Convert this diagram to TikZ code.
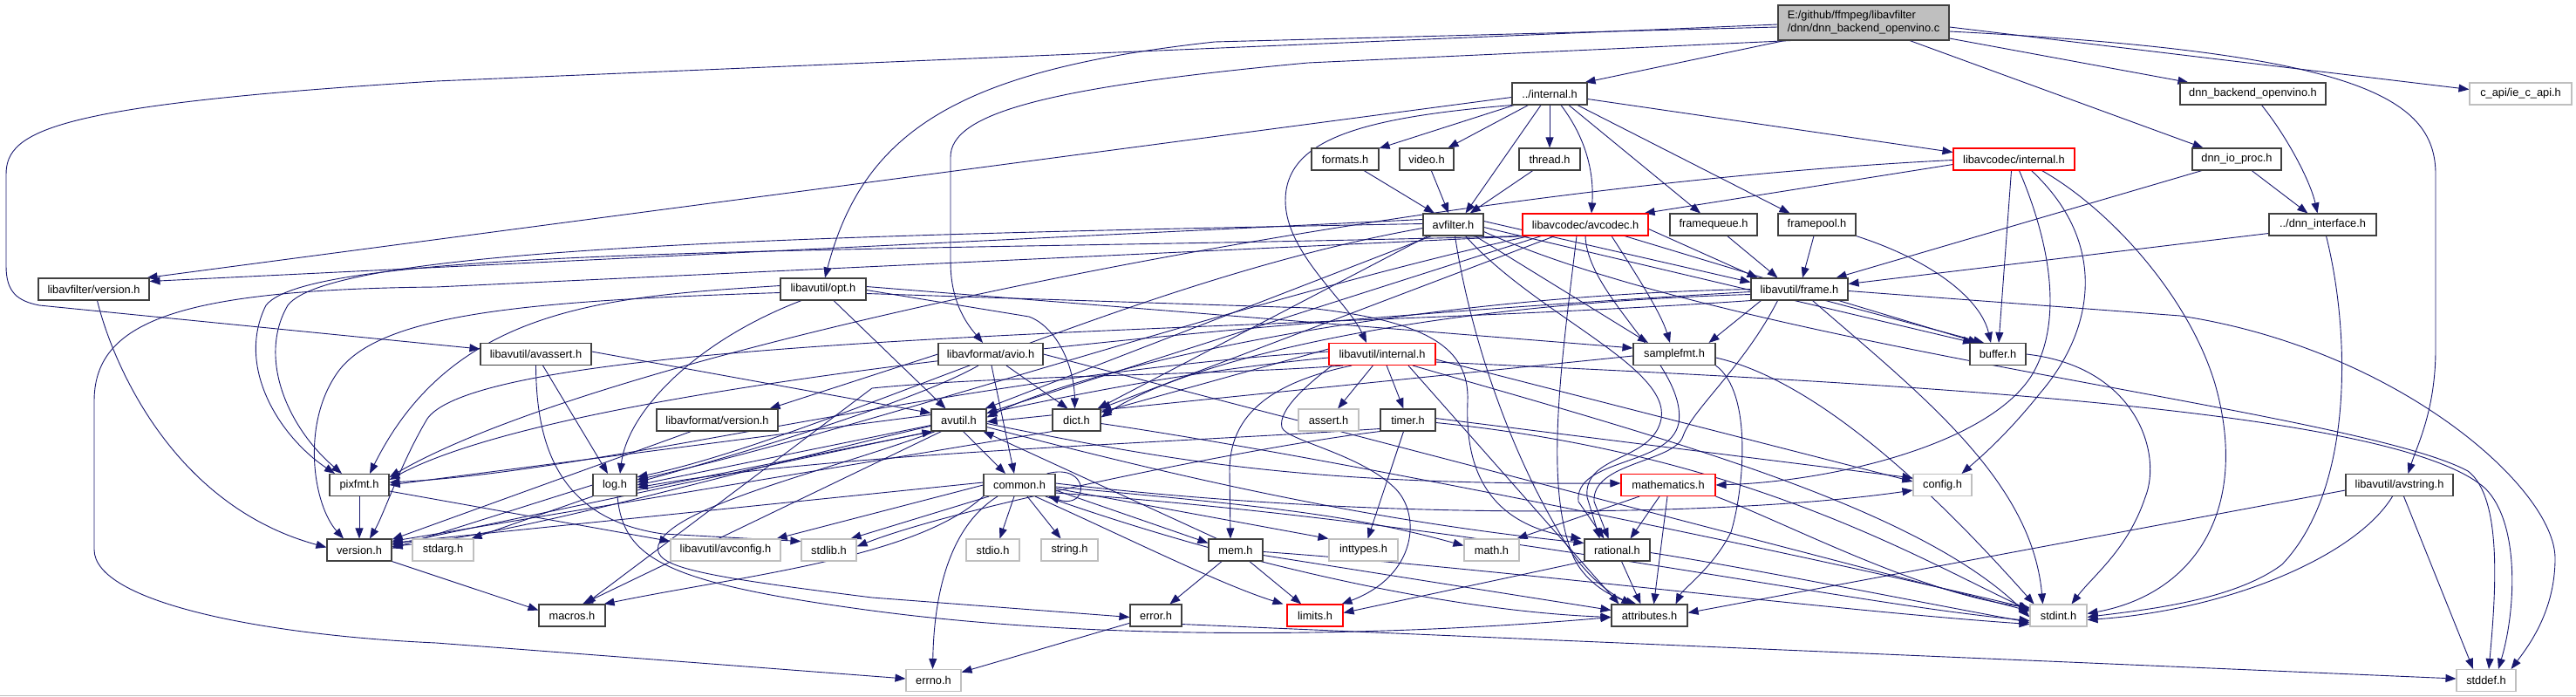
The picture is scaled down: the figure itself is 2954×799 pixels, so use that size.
\documentclass[tikz,border=0pt]{standalone}
\usepackage{fontspec}
\setmainfont{Liberation Sans}
\usetikzlibrary{arrows.meta}
\definecolor{edgec}{HTML}{191970}
\definecolor{bordc}{HTML}{404040}
\definecolor{redc}{HTML}{FF0000}
\definecolor{greyc}{HTML}{BFBFBF}
\definecolor{mainfill}{HTML}{BFBFBF}
\pgfdeclarelayer{bg}
\pgfsetlayers{bg,main}
\tikzset{
  nd/.style={draw=bordc, line width=1.1pt, fill=white, inner sep=0pt, minimum height=25pt, font=\fontsize{12.8pt}{15pt}\selectfont},
  rd/.style={nd, draw=redc},
  gd/.style={nd, draw=greyc},
  e/.style={draw=edgec, line width=0.9pt, -{Triangle[length=12pt,width=9pt]}},
}
\newcommand\Nd[6]{\node[#1, minimum width=#5pt] (#2) at (#3,#4) {#6};}
\begin{document}
\begin{tikzpicture}[x=1pt,y=-1pt]
\useasboundingbox (0,0) rectangle (2954,799);
% ---------------- nodes
\node[nd, fill=mainfill, minimum width=196pt, minimum height=40pt, align=left] (main) at (2137,26) {E:/github/ffmpeg/libavfilter\\/dnn/dnn\_backend\_openvino.c};
\Nd{nd}{intf}{1777}{107.5}{86}{../internal.h}
\Nd{nd}{dbo}{2583.5}{107.5}{167}{dnn\_backend\_openvino.h}
\Nd{gd}{ieapi}{2890.5}{107.5}{117}{c\_api/ie\_c\_api.h}
\Nd{nd}{formats}{1542.5}{182.5}{77}{formats.h}
\Nd{nd}{video}{1636}{182.5}{62}{video.h}
\Nd{nd}{thread}{1777}{182.5}{70}{thread.h}
\Nd{rd}{acint}{2309.5}{182.5}{139}{libavcodec/internal.h}
\Nd{nd}{dio}{2565}{182.5}{102}{dnn\_io\_proc.h}
\Nd{nd}{avfilter}{1666.5}{257.5}{69}{avfilter.h}
\Nd{rd}{avcodec}{1818}{257.5}{144}{libavcodec/avcodec.h}
\Nd{nd}{framequeue}{1965}{257.5}{100}{framequeue.h}
\Nd{nd}{framepool}{2083.5}{257.5}{89}{framepool.h}
\Nd{nd}{dnnif}{2663.5}{257.5}{123}{../dnn\_interface.h}
\Nd{nd}{lfver}{107.5}{331.5}{127}{libavfilter/version.h}
\Nd{nd}{opt}{944}{331.5}{98}{libavutil/opt.h}
\Nd{nd}{frame}{2063.5}{331.5}{111}{libavutil/frame.h}
\Nd{nd}{avassert}{614.5}{406}{127}{libavutil/avassert.h}
\Nd{nd}{avio}{1136}{406}{120}{libavformat/avio.h}
\Nd{rd}{uint}{1585}{406}{122}{libavutil/internal.h}
\Nd{nd}{samplefmt}{1920}{406}{94}{samplefmt.h}
\Nd{nd}{buffer}{2291}{406}{64}{buffer.h}
\Nd{nd}{lfmtver}{822.5}{481.5}{139}{libavformat/version.h}
\Nd{nd}{avutil}{1099.5}{481.5}{63}{avutil.h}
\Nd{nd}{dict}{1234.5}{481.5}{55}{dict.h}
\Nd{gd}{assert}{1523.5}{481.5}{69}{assert.h}
\Nd{nd}{timer}{1614.5}{481.5}{63}{timer.h}
\Nd{nd}{pixfmt}{412}{556}{68}{pixfmt.h}
\Nd{nd}{log}{705}{556}{50}{log.h}
\Nd{nd}{common}{1169}{556}{82}{common.h}
\Nd{rd}{mathem}{1913}{556}{108}{mathematics.h}
\Nd{gd}{config}{2227.5}{556}{67}{config.h}
\Nd{nd}{avstring}{2751.5}{556}{123}{libavutil/avstring.h}
\Nd{nd}{version}{412}{630.5}{74}{version.h}
\Nd{gd}{stdarg}{508}{630.5}{70}{stdarg.h}
\Nd{gd}{avconfig}{832}{630.5}{126}{libavutil/avconfig.h}
\Nd{gd}{stdlib}{950.5}{630.5}{63}{stdlib.h}
\Nd{gd}{stdio}{1138.5}{630.5}{61}{stdio.h}
\Nd{gd}{string}{1226.5}{630.5}{65}{string.h}
\Nd{gd}{inttypes}{1563.5}{630.5}{79}{inttypes.h}
\Nd{gd}{mathh}{1710.5}{630.5}{63}{math.h}
\Nd{nd}{mem}{1417}{630.5}{62}{mem.h}
\Nd{nd}{rational}{1854.5}{630.5}{75}{rational.h}
\Nd{nd}{macros}{656}{705.5}{76}{macros.h}
\Nd{nd}{error}{1325.5}{705.5}{59}{error.h}
\Nd{rd}{limits}{1508}{705.5}{64}{limits.h}
\Nd{nd}{attributes}{1891.5}{705.5}{87}{attributes.h}
\Nd{gd}{stdint}{2360.5}{705.5}{65}{stdint.h}
\Nd{gd}{errno}{1070.5}{780}{63}{errno.h}
\Nd{gd}{stddef}{2851}{780}{68}{stddef.h}
% ---------------- edges
\begin{pgfonlayer}{bg}
\fill[white] (0,0) rectangle (2954,799);
\draw[greyc, line width=1.2pt] (0,797.8) -- (2954,797.8);
% main
\draw[e] ([xshift=8pt]main.south west) -- ([xshift=-3pt]intf.north east);
\draw[e] ([yshift=-18pt]main.east) -- ([xshift=10pt]dbo.north west);
\draw[e] ([xshift=53pt]main.south) -- ([xshift=13pt]dio.north west);
\draw[e] ([yshift=-5pt]main.east) -- ([yshift=5pt]ieapi.west);
\draw[e] ([yshift=-10pt]main.east) .. controls (2700,60) and (2793,110) .. (2793,200) -- (2793,400) .. controls (2793,470) and (2772,510) .. ([xshift=10pt]avstring.north);
\draw[e] ([yshift=-2pt]main.west) -- (500,93) .. controls (60,120) and (7,150) .. (7,200) -- (7,305) .. controls (7,335) and (20,345) .. (45,350) -- ([yshift=6pt]avassert.west);
\draw[e] ([yshift=-5pt]main.west) -- (1393,48) .. controls (1100,80) and (990,150) .. ([xshift=2pt]opt.north);
\draw[e] ([xshift=15pt]main.south west) -- (1500,72) .. controls (1200,100) and (1090,130) .. (1090,180) -- (1090,300) .. controls (1090,350) and (1112,375) .. ([xshift=-9pt]avio.north);
% ../internal.h
\draw[e] (intf) -- (formats);
\draw[e] (intf) -- (video);
\draw[e] (intf) -- (thread);
\draw[e] ([xshift=-10pt]intf.south) -- ([xshift=14pt]avfilter.north);
\draw[e] ([xshift=13pt]intf.south) .. controls (1820,160) and (1828,200) .. ([xshift=7pt]avcodec.north);
\draw[e] ([xshift=22pt]intf.south) -- ([xshift=-15pt]framequeue.north);
\draw[e] ([xshift=32pt]intf.south) -- ([xshift=-31pt]framepool.north);
\draw[e] ([yshift=-6pt]intf.east) -- ([yshift=8pt]acint.west);
\draw[e] ([yshift=-4pt]intf.west) -- ([xshift=-3pt]lfver.north east);
\draw[e] (intf.south west) .. controls (1560,135) and (1474,160) .. (1474,230) .. controls (1474,290) and (1545,345) .. ([xshift=-18pt]uint.north);
% second rank
\draw[e] (formats) -- (avfilter);
\draw[e] (video) -- (avfilter);
\draw[e] (thread) -- (avfilter);
\draw[e] (framepool) -- (frame);
\draw[e] (framepool.south east) .. controls (2220,300) and (2272,345) .. ([xshift=-8pt]buffer.north);
\draw[e] (framequeue) -- ([xshift=-25pt]frame.north);
\draw[e] ([xshift=10pt]dbo.south) .. controls (2625,160) and (2650,210) .. ([xshift=-6pt]dnnif.north);
\draw[e] (dio) -- (dnnif);
\draw[e] ([xshift=-40pt]dio.south) -- ([xshift=42pt]frame.north);
\draw[e] ([yshift=-10pt]dnnif.west) -- ([yshift=6pt]frame.east);
\draw[e] ([xshift=4pt]dnnif.south) .. controls (2695,380) and (2700,560) .. (2617,647) .. controls (2560,690) and (2450,700) .. ([yshift=-2pt]stdint.east);
% libavcodec/internal.h
\draw[e] ([yshift=-6pt]acint.west) -- ([xshift=-5pt]avcodec.north east);
\draw[e] ([yshift=-1pt]acint.west) .. controls (1600,215) and (700,400) .. ([yshift=9pt]pixfmt.east);
\draw[e] ([xshift=-3pt]acint.south) -- ([xshift=1pt]buffer.north);
\draw[e] ([xshift=6pt]acint.south) .. controls (2360,300) and (2360,380) .. (2330,430) .. controls (2280,510) and (2100,552) .. (mathem.east);
\draw[e] ([xshift=20pt]acint.south) .. controls (2420,280) and (2400,380) .. (2340,450) .. controls (2300,500) and (2270,525) .. ([xshift=22pt]config.north);
\draw[e] ([xshift=32pt]acint.south) .. controls (2420,240) and (2510,340) .. (2540,440) .. controls (2580,580) and (2520,680) .. ([yshift=2pt]stdint.east);
% avfilter.h
\draw[e] ([yshift=6pt]avfilter.west) -- ([yshift=9pt]lfver.east);
\draw[e] ([yshift=1pt]avfilter.west) .. controls (900,270) and (380,285) .. (330,350) .. controls (295,410) and (330,490) .. ([xshift=-20pt]pixfmt.north);
\draw[e] ([xshift=-25pt]avfilter.south) -- ([xshift=-2pt]avutil.north east);
\draw[e] ([xshift=6pt]avfilter.south west) -- ([xshift=-4pt]dict.north east);
\draw[e] ([yshift=-4pt]avfilter.west) .. controls (1300,320) and (950,500) .. ([yshift=9pt]log.east);
\draw[e] ([xshift=2pt]avfilter.south) .. controls (1685,380) and (1730,520) .. (1800,630) .. controls (1820,660) and (1845,680) .. ([xshift=-20pt]attributes.north);
\draw[e] ([xshift=14pt]avfilter.south) .. controls (1760,360) and (1915,420) .. (1905,480) .. controls (1895,530) and (1815,520) .. (1820,570) -- ([xshift=-20pt]rational.north);
\draw[e] ([xshift=25pt]avfilter.south) -- ([xshift=-30pt]samplefmt.north);
\draw[e] ([yshift=4pt]avfilter.east) -- ([yshift=8pt]frame.west);
\draw[e] ([yshift=-3pt]avfilter.east) -- ([xshift=-28pt]buffer.north);
\draw[e] ([yshift=-8pt]avfilter.east) .. controls (2000,400) and (2700,470) .. (2830,540) .. controls (2870,570) and (2862,680) .. ([xshift=3pt]stddef.north);
% libavcodec/avcodec.h
\draw[e] (avcodec.south west) .. controls (1000,290) and (360,280) .. (305,350) .. controls (270,420) and (320,500) .. ([xshift=-28pt]pixfmt.north);
\draw[e] ([xshift=8pt]avcodec.south west) .. controls (1400,350) and (1000,490) .. ([yshift=6pt]log.east);
\draw[e] ([xshift=22pt]avcodec.south west) -- ([yshift=8pt]avutil.east);
\draw[e] ([xshift=-35pt]avcodec.south) -- ([xshift=-1pt]dict.north east);
\draw[e] ([xshift=45pt]avcodec.south) -- ([xshift=-22pt]buffer.north);
\draw[e] ([yshift=-5pt]avcodec.east) -- ([xshift=8pt]frame.north west);
\draw[e] ([xshift=30pt]avcodec.south) .. controls (1880,320) and (1905,360) .. ([xshift=-5pt]samplefmt.north);
\draw[e] (avcodec.south) .. controls (1820,340) and (1935,420) .. (1925,485) .. controls (1915,535) and (1805,525) .. (1810,575) -- ([xshift=-15pt]rational.north);
\draw[e] ([xshift=-10pt]avcodec.south) .. controls (1790,420) and (1770,560) .. (1805,640) .. controls (1820,670) and (1850,685) .. ([xshift=-15pt]attributes.north);
\draw[e] ([xshift=4pt]avcodec.south west) -- (500,329) .. controls (200,332) and (108,370) .. (108,460) -- (108,630) .. controls (108,690) and (300,728) .. (500,737) -- ([yshift=2pt]errno.west);
% libavutil/frame.h
\draw[e] (frame.west) .. controls (1600,340) and (1250,420) .. ([yshift=3pt]avutil.east);
\draw[e] ([yshift=-6pt]frame.west) .. controls (1600,350) and (1350,420) .. ([yshift=3pt]dict.east);
\draw[e] ([xshift=30pt]frame.south) -- ([xshift=-16pt]buffer.north);
\draw[e] ([xshift=12pt]frame.south west) -- ([xshift=-8pt]samplefmt.north east);
\draw[e] ([xshift=-25pt]frame.south) .. controls (2000,420) and (1940,470) .. (1930,500) .. controls (1920,530) and (1825,530) .. (1828,575) -- ([xshift=-10pt]rational.north);
\draw[e] ([yshift=-3pt]frame.west) .. controls (1400,370) and (650,440) .. ([yshift=6pt]pixfmt.east);
\draw[e] (frame.south west) .. controls (1500,380) and (560,380) .. (490,480) .. controls (460,530) and (440,590) .. ([xshift=12pt]version.north);
\draw[e] ([xshift=15pt]frame.south) .. controls (2200,450) and (2330,550) .. ([xshift=-18pt]stdint.north);
\draw[e] ([yshift=-2pt]frame.east) -- (2500,362) .. controls (2750,400) and (2930,560) .. (2930,640) .. controls (2930,700) and (2900,740) .. ([xshift=-6pt]stddef.north east);
% samplefmt.h
\draw[e] ([yshift=-2pt]samplefmt.west) -- ([yshift=-2pt]avutil.east);
\draw[e] (samplefmt.south east) .. controls (2010,450) and (2000,560) .. (1985,610) .. controls (1965,650) and (1930,675) .. ([xshift=30pt]attributes.north);
\draw[e] ([yshift=-4pt]samplefmt.east) .. controls (2100,440) and (2250,600) .. ([xshift=-28pt]stdint.north);
% libavutil/opt.h
\draw[e] ([yshift=-5pt]opt.east) -- (1500,353) .. controls (1640,368) and (1685,400) .. (1683,460) .. controls (1680,530) and (1700,600) .. ([xshift=-3pt]rational.north west);
\draw[e] ([yshift=3pt]opt.east) -- ([yshift=7pt]samplefmt.west);
\draw[e] ([yshift=-1pt]opt.east) -- (1180,363) .. controls (1212,375) and (1232,420) .. ([xshift=-2pt]dict.north);
\draw[e] ([xshift=12pt]opt.south) -- ([xshift=-15pt]avutil.north);
\draw[e] ([xshift=-25pt]opt.south) .. controls (800,390) and (720,470) .. ([xshift=6pt]log.north);
\draw[e] ([yshift=4pt]opt.west) .. controls (700,340) and (520,350) .. ([xshift=12pt]pixfmt.north);
\draw[e] ([yshift=-4pt]opt.west) .. controls (600,345) and (430,360) .. (385,430) .. controls (345,490) and (360,580) .. ([xshift=-18pt]version.north);
% libavutil/avassert.h
\draw[e] ([yshift=3pt]avassert.east) -- ([yshift=8pt]avutil.west);
\draw[e] ([xshift=8pt]avassert.south) -- ([xshift=-8pt]log.north);
\draw[e] (avassert.south) .. controls (615,510) and (640,595) .. (760,612) -- ([yshift=10pt]stdlib.west);
% libavformat/avio.h
\draw[e] (avio.east) -- ([yshift=5pt]stdint.west);
\draw[e] ([xshift=1pt]avio.south) -- ([xshift=-6pt]common.north);
\draw[e] ([xshift=18pt]avio.south) -- ([xshift=-10pt]dict.north);
\draw[e] ([xshift=-14pt]avio.south) .. controls (1050,460) and (850,520) .. ([yshift=3pt]log.east);
\draw[e] (avio.west) -- ([xshift=-10pt]lfmtver.north east);
\draw[e] ([xshift=-30pt]lfmtver.south) -- ([yshift=-1pt]version.north east);
% libavutil/internal.h
\draw[e] (uint) -- (assert);
\draw[e] (uint) -- (timer);
\draw[e] ([xshift=4pt]uint.south west) .. controls (1500,440) and (1465,470) .. (1470,490) .. controls (1475,505) and (1560,520) .. (1600,560) .. controls (1630,590) and (1625,660) .. ([xshift=-2pt]limits.north east);
\draw[e] ([xshift=35pt]uint.south) .. controls (1900,500) and (2200,580) .. ([yshift=-2pt]stdint.west);
\draw[e] ([yshift=-6pt]uint.east) -- ([yshift=4pt]config.west);
\draw[e] ([xshift=30pt]uint.south) -- ([xshift=-35pt]attributes.north);
\draw[e] ([yshift=6pt]uint.west) -- ([yshift=-4pt]dict.north east);
\draw[e] ([xshift=-45pt]uint.south) .. controls (1400,430) and (1150,430) .. (1000,445) -- ([xshift=15pt]macros.north);
\draw[e] ([xshift=-35pt]uint.south) .. controls (1450,440) and (1410,480) .. (1410,540) -- ([xshift=-6pt]mem.north);
\draw[e] ([yshift=3pt]uint.west) .. controls (1100,430) and (700,540) .. ([yshift=3pt]pixfmt.east);
\draw[e] ([yshift=-4pt]uint.west) .. controls (1100,450) and (700,600) .. ([yshift=-9pt]version.north east);
\draw[e] ([yshift=-9pt]uint.east) .. controls (2200,440) and (2750,470) .. (2850,560) .. controls (2890,600) and (2885,700) .. ([xshift=14pt]stddef.north);
% timer.h
\draw[e] ([xshift=-5pt]timer.south) -- ([xshift=5pt]inttypes.north);
\draw[e] (timer.south west) .. controls (1450,510) and (1100,580) .. ([yshift=4pt]stdlib.east);
\draw[e] ([yshift=-3pt]timer.east) .. controls (2000,520) and (2200,640) .. ([yshift=6pt]stdint.west);
\draw[e] ([yshift=2pt]timer.east) -- ([yshift=8pt]config.west);
\draw[e] ([yshift=-10pt]timer.west) .. controls (1300,510) and (950,520) .. ([yshift=-3pt]log.east);
% avutil.h
\draw[e] ([xshift=5pt]avutil.south) -- ([xshift=-16pt]common.north);
\draw[e] ([yshift=-4pt]avutil.east) .. controls (1350,530) and (1500,556) .. ([yshift=2pt]mathem.west);
\draw[e] ([yshift=-8pt]avutil.east) .. controls (1400,560) and (1600,600) .. ([yshift=8pt]rational.west);
\draw[e] (avutil.south west) -- ([yshift=-7pt]version.north east);
\draw[e] ([xshift=-20pt]avutil.south) -- ([xshift=12pt]macros.north);
\draw[e] ([yshift=-6pt]avutil.west) -- (log.east);
\draw[e] ([yshift=6pt]avutil.west) -- (pixfmt.east);
\draw[e] ([xshift=5pt]avutil.south west) .. controls (950,540) and (770,580) .. (755,625) .. controls (748,650) and (800,660) .. (1000,685) -- ([yshift=-2pt]error.west);
% dict.h
\draw[e] ([yshift=-4pt]dict.east) .. controls (1500,520) and (2000,620) .. ([yshift=8pt]stdint.west);
\draw[e] (dict.south west) -- ([yshift=-3pt]version.north east);
% common.h
\draw[e] ([xshift=-10pt]common.north east) .. controls (1250,530) and (1250,585) .. ([xshift=-8pt]common.south east);
\draw[e] ([xshift=-25pt]common.south) .. controls (1110,590) and (1072,640) .. ([xshift=-1pt]errno.north);
\draw[e] ([xshift=-6pt]common.south) -- ([xshift=8pt]stdio.north);
\draw[e] ([xshift=9pt]common.south) -- ([xshift=-10pt]string.north);
\draw[e] ([xshift=-35pt]common.south) -- ([xshift=25pt]stdlib.north);
\draw[e] ([xshift=18pt]common.south) .. controls (1300,620) and (1400,670) .. ([xshift=-4pt]limits.north west);
\draw[e] ([yshift=-6pt]common.east) -- ([yshift=8pt]mem.west);
\draw[e] ([yshift=-4pt]common.east) -- (inttypes.north west);
\draw[e] ([yshift=-2pt]common.east) .. controls (1450,580) and (1550,590) .. ([yshift=5pt]mathh.west);
\draw[e] ([yshift=2pt]common.east) .. controls (1600,600) and (2000,590) .. ([yshift=-6pt]config.west);
\draw[e] ([yshift=-9pt]common.east) .. controls (1700,600) and (2100,690) .. ([yshift=-6pt]stdint.west);
\draw[e] ([xshift=30pt]common.south) .. controls (1400,640) and (1650,700) .. ([yshift=-2pt]attributes.west);
\draw[e] ([yshift=3pt]common.west) -- ([yshift=-5pt]version.north east);
\draw[e] (common.west) -- ([xshift=-5pt]avconfig.north east);
\draw[e] (common.south west) .. controls (1050,640) and (850,660) .. ([xshift=-2pt]macros.north east);
% error.h
\draw[e] (error) -- (errno);
\draw[e] ([yshift=3pt]error.south east) -- ([yshift=2pt]stddef.west);
% log.h
\draw[e] (log.south west) -- ([xshift=-3pt]stdarg.north east);
\draw[e] ([yshift=-6pt]log.east) -- ([xshift=2pt]avutil.south west);
\draw[e] ([xshift=3pt]log.south) .. controls (715,640) and (760,668) .. (1000,700) .. controls (1300,740) and (1650,725) .. ([yshift=-2pt]attributes.west);
\draw[e] (log.west) -- ([yshift=-11pt]version.north east);
% pixfmt.h, version.h, libavfilter/version.h
\draw[e] (pixfmt) -- (version);
\draw[e] ([yshift=-7pt]pixfmt.east) -- ([yshift=10pt]avconfig.west);
\draw[e] (version.south east) -- ([yshift=6pt]macros.west);
\draw[e] ([xshift=4pt]lfver.south) .. controls (130,420) and (200,580) .. ([yshift=3pt]version.west);
% rational.h
\draw[e] ([yshift=-3pt]rational.east) .. controls (2000,650) and (2200,690) .. ([yshift=-8pt]stdint.west);
\draw[e] (rational.south west) -- ([yshift=3pt]limits.east);
\draw[e] ([xshift=5pt]rational.south) -- ([xshift=-10pt]attributes.north);
% mathematics.h
\draw[e] (mathem.south east) .. controls (2050,600) and (2200,680) .. ([yshift=9pt]stdint.west);
\draw[e] ([xshift=-33pt]mathem.south) -- ([xshift=-3pt]mathh.north east);
\draw[e] ([xshift=-1pt]mathem.south) -- ([xshift=5pt]attributes.north);
\draw[e] ([xshift=-10pt]mathem.south) -- ([xshift=15pt]rational.north);
% avstring.h
\draw[e] ([xshift=5pt]avstring.south) -- ([xshift=-15pt]stddef.north);
\draw[e] ([xshift=-8pt]avstring.south) .. controls (2700,640) and (2550,700) .. ([yshift=-5pt]stdint.east);
\draw[e] ([yshift=-6pt]avstring.west) -- ([yshift=3pt]attributes.east);
% mem.h
\draw[e] ([yshift=-6pt]mem.east) -- ([yshift=6pt]attributes.west);
\draw[e] (mem) -- (error);
\draw[e] ([xshift=10pt]mem.north west) -- ([xshift=-4pt]avutil.south east);
\draw[e] (mem) -- (limits);
\draw[e] ([yshift=-2pt]mem.east) .. controls (1700,650) and (2100,700) .. ([yshift=-10pt]stdint.west);
% buffer.h
\draw[e] (buffer.east) .. controls (2450,420) and (2480,520) .. (2460,570) .. controls (2440,630) and (2400,660) .. ([xshift=15pt]stdint.north);
\end{pgfonlayer}
\end{tikzpicture}
\end{document}
